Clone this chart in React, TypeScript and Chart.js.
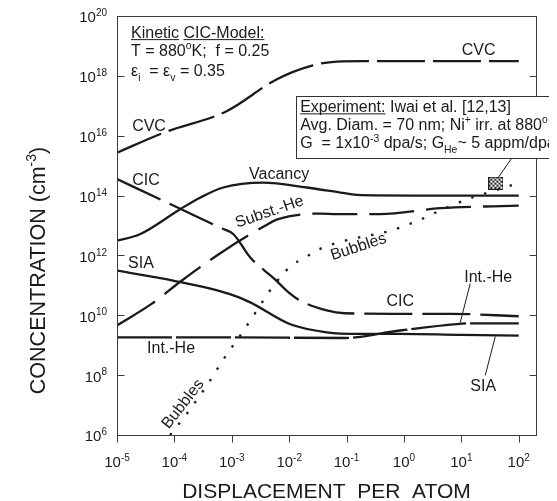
import React, { useEffect, useRef } from "react";
import { Chart, registerables } from "chart.js";

Chart.register(...registerables);

// ---- axis ticks (powers of ten) ----
const xTickExponents = [-5, -4, -3, -2, -1, 0, 1, 2];
const yTickExponents = [6, 8, 10, 12, 14, 16, 18, 20];

// ---- series: displacement per atom (x) and concentration in cm^-3 (y) ----
const cvcDpa = [1e-5, 6.5e-5, 8.1e-4, 6.0e-3, 2.5e-2, 6.8e-2, 0.2, 1, 10, 100];
const cvcConc = [2.7e15, 1.26e16, 6.6e16, 7.6e17, 2.2e18, 3.0e18, 3.1e18, 3.1e18, 3.1e18, 3.1e18];

const vacDpa = [1e-5, 2.5e-5, 1.26e-4, 2.8e-4, 7.1e-4, 3.5e-3, 2.0e-2, 7.8e-2, 0.15, 1.45, 10, 100];
const vacConc = [3.1e12, 5.1e12, 3.5e13, 8.5e13, 1.86e14, 2.7e14, 1.86e14, 1.26e14, 1.05e14, 1.0e14, 1.0e14, 1.0e14];

const cicDpa = [1e-5, 6.5e-5, 6.2e-4, 1.07e-3, 2.1e-3, 5.6e-3, 9.1e-3, 1.55e-2, 4.5e-2, 9.3e-2, 0.65, 6.3, 100];
const cicConc = [3.55e14, 6.6e13, 8.5e12, 5.1e12, 8.5e11, 1.62e11, 6.6e10, 3.1e10, 1.45e10, 1.17e10, 1.12e10, 1.12e10, 9.3e9];

const substHeDpa = [1e-5, 4e-5, 1.35e-4, 6.6e-4, 3.8e-3, 6.4e-3, 3.5e-2, 6.8e-2, 0.38, 4.3, 100];
const substHeConc = [4.6e9, 2.4e10, 1.45e11, 1.26e12, 9.8e12, 1.63e13, 2.5e13, 2.4e13, 2.4e13, 3.8e13, 4.6e13];

const siaDpa = [1e-5, 9.5e-5, 9.3e-4, 2.1e-3, 1.02e-2, 4.5e-2, 0.17, 0.85, 10, 100];
const siaConc = [3.1e11, 1.45e11, 5.1e10, 2.7e10, 5.1e9, 2.7e9, 2.4e9, 2.4e9, 2.2e9, 2.1e9];

const intHeDpa = [1e-5, 1e-3, 9.3e-2, 0.85, 8.3, 16, 100];
const intHeConc = [1.82e9, 1.82e9, 1.74e9, 3.1e9, 5.1e9, 5.4e9, 5.4e9];

const bubDpa = [8.4e-5, 1.64e-4, 3.7e-4, 7.6e-4, 1.49e-3, 3.2e-3, 4.6e-3, 7.4e-3, 1.1e-2, 1.9e-2, 3.2e-2, 9.3e-2, 0.57, 1.75, 5.6, 18.7, 31.5, 62, 100];
const bubConc = [1e6, 5.1e6, 4.6e7, 4e8, 2.5e9, 2.3e10, 6.6e10, 2.1e11, 4.6e11, 8.5e11, 1.55e12, 3.1e12, 6.6e12, 1.45e13, 4e13, 9.8e13, 1.32e14, 1.95e14, 2.7e14];

const expDpa = [40];
const expConc = [2.6e14];

const FAM = '"Liberation Sans", Arial, Helvetica, sans-serif';
const INK = "#1a1a1a";

type Seg = { t: string; k?: "sup" | "sub"; u?: boolean };

function drawRich(
  ctx: CanvasRenderingContext2D,
  segs: Seg[],
  x: number,
  yMid: number,
  size: number,
  align: "left" | "center" | "right" = "left",
  small: number = size * 0.65
) {
  const ws = segs.map((s) => {
    ctx.font = `${s.k ? small : size}px ${FAM}`;
    return ctx.measureText(s.t).width;
  });
  const total = ws.reduce((a, b) => a + b, 0);
  let cx = align === "left" ? x : align === "center" ? x - total / 2 : x - total;
  const base = yMid + size * 0.36;
  ctx.textAlign = "left";
  ctx.textBaseline = "alphabetic";
  segs.forEach((s, i) => {
    ctx.font = `${s.k ? small : size}px ${FAM}`;
    const dy = s.k === "sup" ? -size * 0.42 : s.k === "sub" ? size * 0.3 : 0;
    ctx.fillText(s.t, cx, base + dy);
    if (s.u) ctx.fillRect(cx, base + 1.5, ws[i], 1);
    cx += ws[i];
  });
}

const pts = (xs: number[], ys: number[]) => xs.map((x, i) => ({ x, y: ys[i] }));

export default function App() {
  const ref = useRef<HTMLCanvasElement>(null);

  useEffect(() => {
    const canvas = ref.current!;
    // checkered experiment marker
    const mk = document.createElement("canvas");
    mk.width = 15;
    mk.height = 13;
    const mc = mk.getContext("2d")!;
    mc.fillStyle = "#fff";
    mc.fillRect(0, 0, 15, 13);
    mc.fillStyle = "#222";
    for (let i = 0; i < 8; i++)
      for (let j = 0; j < 7; j++) if ((i + j) % 2 === 0) mc.fillRect(i * 2, j * 2, 2, 2);
    mc.strokeStyle = "#222";
    mc.lineWidth = 1;
    mc.strokeRect(0.5, 0.5, 14, 12);

    const line = (xs: number[], ys: number[], dash: number[]) => ({
      data: pts(xs, ys),
      borderColor: INK,
      borderWidth: 2.3,
      borderDash: dash,
      borderCapStyle: "butt" as const,
      pointRadius: 0,
      fill: false,
      cubicInterpolationMode: "monotone" as const,
    });

    const decor = {
      id: "decor",
      afterDatasetsDraw(chart: any) {
        const { ctx, chartArea: a, scales } = chart;
        const xs = scales.x;
        const ys = scales.y;
        const X = (lx: number) => xs.getPixelForValue(Math.pow(10, lx));
        const Y = (ly: number) => ys.getPixelForValue(Math.pow(10, ly));
        ctx.save();
        // frame
        ctx.strokeStyle = "#3c3c3c";
        ctx.lineWidth = 1;
        const L = Math.round(a.left) + 0.5;
        const R = Math.round(a.right) + 0.5;
        const T = Math.round(a.top) + 0.5;
        const B = Math.round(a.bottom) + 0.5;
        ctx.strokeRect(L, T, R - L, B - T);
        ctx.beginPath();
        for (const e of xTickExponents) {
          const px = Math.round(X(e)) + 0.5;
          ctx.moveTo(px, B);
          ctx.lineTo(px, B + 7);
        }
        for (const e of yTickExponents) {
          const py = Math.round(Y(e)) + 0.5;
          ctx.moveTo(L, py);
          ctx.lineTo(L + 7, py);
          ctx.moveTo(R, py);
          ctx.lineTo(R - 7, py);
        }
        ctx.stroke();

        ctx.fillStyle = INK;
        // tick labels
        for (const e of xTickExponents)
          drawRich(ctx, [{ t: "10" }, { t: String(e), k: "sup" }], X(e), a.bottom + 27, 15, "center", 10);
        for (const e of yTickExponents)
          drawRich(ctx, [{ t: "10" }, { t: String(e), k: "sup" }], a.left - 10, Y(e) + 1, 15, "right", 10);

        // axis titles
        drawRich(ctx, [{ t: "DISPLACEMENT  PER  ATOM" }], (a.left + a.right) / 2, a.bottom + 55, 21, "center");
        ctx.save();
        ctx.translate(a.left - 80, (a.top + a.bottom) / 2 + 45);
        ctx.rotate(-Math.PI / 2);
        drawRich(ctx, [{ t: "CONCENTRATION (cm" }, { t: "-3", k: "sup" }, { t: ")" }], 0, 0, 21.5, "center", 14);
        ctx.restore();

        // model description
        drawRich(ctx, [{ t: "Kinetic", u: true }, { t: " " }, { t: "CIC-Model:", u: true }], X(-4.756), Y(19.47), 16);
        drawRich(ctx, [{ t: "T = 880" }, { t: "o", k: "sup" }, { t: "K;  f = 0.25" }], X(-4.756), Y(18.86), 16);
        drawRich(ctx, [{ t: "ε" }, { t: "i", k: "sub" }, { t: "  = ε" }, { t: "v", k: "sub" }, { t: " = 0.35" }], X(-4.756), Y(18.19), 16);

        // curve labels
        const lab = (t: string, lx: number, ly: number, rot = 0) => {
          ctx.save();
          ctx.translate(X(lx), Y(ly));
          ctx.rotate((rot * Math.PI) / 180);
          drawRich(ctx, [{ t }], 0, 0, 16, "center");
          ctx.restore();
        };
        lab("CVC", 1.3, 18.89);
        lab("CVC", -4.442, 16.36);
        lab("CIC", -4.494, 14.56);
        lab("Vacancy", -2.175, 14.76);
        lab("Subst.-He", -2.35, 13.49, -19);
        lab("SIA", -4.582, 11.76);
        lab("Int.-He", -4.058, 8.92);
        lab("Bubbles", -3.867, 7.06, -52);
        lab("Bubbles", -0.798, 12.32, -18);
        lab("CIC", -0.065, 10.49);
        lab("Int.-He", 1.469, 11.29);
        lab("SIA", 1.382, 7.66);

        // leader lines
        ctx.strokeStyle = INK;
        ctx.lineWidth = 1;
        ctx.beginPath();
        ctx.moveTo(X(1.155), Y(11.06));
        ctx.lineTo(X(0.981), Y(9.76));
        ctx.moveTo(X(1.417), Y(7.99));
        ctx.lineTo(X(1.591), Y(9.29));
        ctx.moveTo(X(1.643), Y(14.6));
        ctx.lineTo(X(1.882), Y(15.26));
        ctx.stroke();

        // experiment box
        const bx = Math.round(X(-1.888)) + 0.5;
        const by = Math.round(Y(17.32)) + 0.5;
        const bb = Math.round(Y(15.26)) + 0.5;
        ctx.fillStyle = "#fff";
        ctx.fillRect(bx, by, chart.width, bb - by);
        ctx.strokeStyle = "#333";
        ctx.strokeRect(bx, by, chart.width, bb - by);
        ctx.fillStyle = INK;
        const tx = X(-1.809);
        drawRich(ctx, [{ t: "Experiment:", u: true }, { t: " Iwai et al. [12,13]" }], tx, Y(16.99), 16);
        drawRich(ctx, [{ t: "Avg. Diam. = 70 nm; Ni" }, { t: "+", k: "sup" }, { t: " irr. at 880" }, { t: "o", k: "sup" }, { t: "K" }], tx, Y(16.39), 16);
        drawRich(ctx, [{ t: "G  = 1x10" }, { t: "-3", k: "sup" }, { t: " dpa/s; G" }, { t: "He", k: "sub" }, { t: "~ 5 appm/dpa" }], tx, Y(15.77), 16);
        ctx.restore();
      },
    };

    const chart = new Chart(canvas, {
      type: "line",
      data: {
        datasets: [
          line(cvcDpa, cvcConc, [48, 8]),
          line(vacDpa, vacConc, []),
          line(cicDpa, cicConc, [48, 10]),
          line(substHeDpa, substHeConc, [45, 12]),
          line(siaDpa, siaConc, []),
          line(intHeDpa, intHeConc, [55, 4]),
          line(bubDpa, bubConc, [2.4, 11]),
          {
            data: pts(expDpa, expConc),
            showLine: false,
            pointStyle: mk,
            pointRadius: 7,
            borderColor: INK,
          } as any,
        ],
      },
      options: {
        animation: false,
        responsive: false,
        devicePixelRatio: 1,
        layout: { padding: { left: 109, right: 21, top: 7, bottom: 66 } },
        plugins: { legend: { display: false }, tooltip: { enabled: false } },
        scales: {
          x: { type: "logarithmic", min: 1e-5, max: 200, display: false },
          y: { type: "logarithmic", min: 1e6, max: 1e20, display: false },
        },
      },
      plugins: [decor],
    } as any);
    return () => chart.destroy();
  }, []);

  return (
    <div style={{ width: 549, height: 493 }}>
      <canvas ref={ref} width={549} height={493} style={{ display: "block", width: 549, height: 493 }} />
    </div>
  );
}
